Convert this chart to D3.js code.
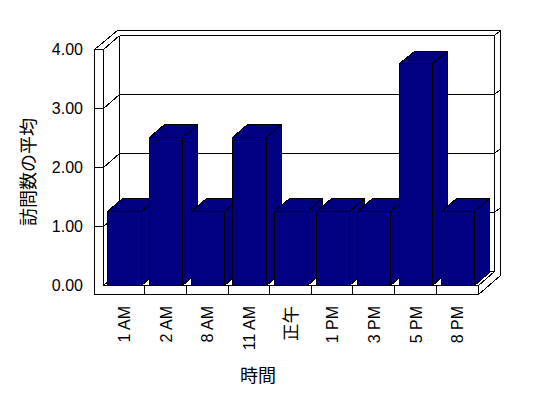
<!DOCTYPE html>
<html lang="ja">
<head>
<meta charset="utf-8">
<script src="https://cdn.jsdelivr.net/npm/d3@7"></script>
<style>
  html, body { margin: 0; padding: 0; background: #fff; }
  svg { display: block; }
  .label { font-family: "Liberation Sans", "Noto Sans CJK JP", sans-serif; fill: #000; }
  .edge { fill: none; stroke: #000; stroke-width: 1; shape-rendering: crispEdges; }
  .bar { fill: #000080; stroke: #000; stroke-width: 1; shape-rendering: crispEdges; }
</style>
</head>
<body>
<svg id="chart" width="548" height="398"></svg>
<script>
const categories = ["1 AM", "2 AM", "8 AM", "11 AM", "正午", "1 PM", "3 PM", "5 PM", "8 PM"];
const values = [1.25, 2.5, 1.25, 2.5, 1.25, 1.25, 1.25, 3.75, 1.25];
const yTicks = [0, 1, 2, 3, 4];
const yTitle = "訪問数の平均";
const xTitle = "時間";

const svg = d3.select("#chart");

// front plane layout
const x = d3.scaleBand()
  .domain(categories)
  .range([102.5, 477.5])
  .paddingInner(0.2)
  .paddingOuter(0.1);
const y = d3.scaleLinear().domain([0, 4]).range([285, 49]);

const wallLeft = 94;
const plotLeft = x.range()[0];
const plotRight = x.range()[1];
const floorBottom = y(0) + 9;
const zIn = 16.5;
const zOut = 22.5;
const barZ0 = 0.5;
const barZ1 = 15.5;
const slope = 0.84;

function pt(px, py, z) {
  return [px + z, py - slope * z];
}

function snap(p) {
  return [Math.round(p[0]) + 0.5, Math.round(p[1]) + 0.5];
}

function poly(points) {
  return "M" + points.map((p) => snap(p).join(",")).join("L") + "Z";
}

function seg(a, b) {
  return "M" + snap(a).join(",") + "L" + snap(b).join(",");
}

const gWalls = svg.append("g");
const gBars = svg.append("g");
const gLabels = svg.append("g");

// walls + floor silhouette
const yTop = y(4);
const yZero = y(0);
gWalls.append("path")
  .attr("class", "edge")
  .style("fill", "#fff")
  .attr("d", poly([
    pt(wallLeft, floorBottom, 0),
    pt(wallLeft, yTop, 0),
    pt(wallLeft, yTop, zOut),
    pt(plotRight, yTop, zOut),
    pt(plotRight, floorBottom, zOut),
    pt(plotRight, floorBottom, 0)
  ]));

const edges = [
  [pt(wallLeft, yTop, 0), pt(plotLeft, yTop, 0)],
  [pt(plotLeft, yTop, 0), pt(plotLeft, yZero, 0)],
  [pt(plotLeft, yTop, 0), pt(plotLeft, yTop, zIn)],
  [pt(plotLeft, yTop, zIn), pt(plotRight, yTop, zIn)],
  [pt(plotRight, yTop, zIn), pt(plotRight, yTop, zOut)],
  [pt(plotRight, yTop, zIn), pt(plotRight, yZero, zIn)],
  [pt(plotLeft, yTop, zIn), pt(plotLeft, yZero, zIn)],
  [pt(plotLeft, yZero, 0), pt(plotRight, yZero, 0)],
  [pt(plotRight, yZero, 0), pt(plotRight, floorBottom, 0)],
  [pt(plotRight, yZero, 0), pt(plotRight, yZero, zIn)],
  [pt(plotLeft, yZero, 0), pt(plotLeft, yZero, zIn)],
  [pt(plotLeft, yZero, zIn), pt(plotRight, yZero, zIn)]
];

// gridlines wrapping around the walls
yTicks.filter((v) => v > 0 && v < 4).forEach((v) => {
  const py = y(v);
  edges.push([pt(wallLeft, py, 0), pt(plotLeft, py, 0)]);
  edges.push([pt(plotLeft, py, 0), pt(plotLeft, py, zIn)]);
  edges.push([pt(plotLeft, py, zIn), pt(plotRight, py, zIn)]);
  edges.push([pt(plotRight, py, zIn), pt(plotRight, py, zOut)]);
});

// category dividers on the floor front
categories.slice(1).forEach((c) => {
  const px = x(c) - x.step() * x.paddingInner() / 2;
  edges.push([pt(px, yZero, 0), pt(px, floorBottom, 0)]);
});

gWalls.selectAll("path.grid")
  .data(edges)
  .join("path")
  .attr("class", "edge grid")
  .attr("d", (d) => seg(d[0], d[1]));

// bars
const bw = x.bandwidth();
categories.forEach((c, i) => {
  const x0 = x(c);
  const x1 = x0 + bw;
  const yv = y(values[i]);
  const g = gBars.append("g");
  g.append("path").attr("class", "bar").attr("d", poly([
    pt(x1, yv, barZ0), pt(x1, yv, barZ1), pt(x1, yZero, barZ1), pt(x1, yZero, barZ0)
  ]));
  g.append("path").attr("class", "bar").attr("d", poly([
    pt(x0, yv, barZ0), pt(x0, yv, barZ1), pt(x1, yv, barZ1), pt(x1, yv, barZ0)
  ]));
  g.append("path").attr("class", "bar").attr("d", poly([
    pt(x0, yv, barZ0), pt(x1, yv, barZ0), pt(x1, yZero, barZ0), pt(x0, yZero, barZ0)
  ]));
});

// y tick labels
gLabels.selectAll("text.ytick")
  .data(yTicks)
  .join("text")
  .attr("class", "label ytick")
  .attr("x", 83)
  .attr("y", (d) => y(d))
  .attr("dy", "0.35em")
  .attr("text-anchor", "end")
  .style("font-size", "16px")
  .text((d) => d.toFixed(2));

// x tick labels
gLabels.selectAll("text.xtick")
  .data(categories)
  .join("text")
  .attr("class", "label xtick")
  .attr("transform", (d) => `translate(${x(d) + bw / 2 + 1},306) rotate(-90)`)
  .attr("dy", "0.35em")
  .attr("text-anchor", "end")
  .style("font-size", (d) => (/^[\x00-\x7f]*$/.test(d) ? "16px" : "17.5px"))
  .text((d) => d);

gLabels.append("text")
  .attr("class", "label")
  .attr("transform", "translate(29,172) rotate(-90)")
  .attr("dy", "0.35em")
  .attr("text-anchor", "middle")
  .style("font-size", "18px")
  .text(yTitle);

gLabels.append("text")
  .attr("class", "label")
  .attr("x", 258)
  .attr("y", 376)
  .attr("dy", "0.35em")
  .attr("text-anchor", "middle")
  .style("font-size", "18px")
  .text(xTitle);
</script>
</body>
</html>
